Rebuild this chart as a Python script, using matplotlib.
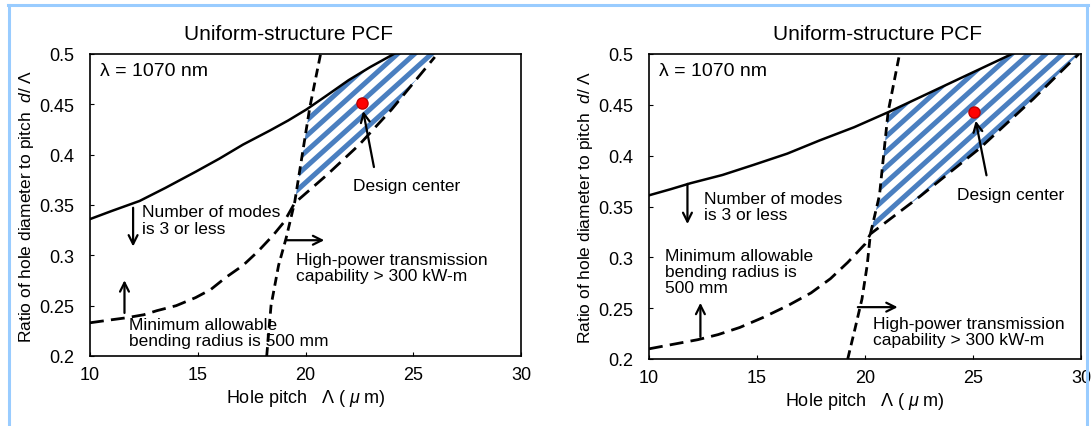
import numpy as np
import matplotlib
matplotlib.use("Agg")
from matplotlib import pyplot as plt
from matplotlib.lines import Line2D
from matplotlib.collections import LineCollection

plt.rcParams['font.family'] = ['Liberation Sans', 'DejaVu Sans']
plt.rcParams['mathtext.fontset'] = 'custom'
plt.rcParams['mathtext.rm'] = 'Liberation Sans'
plt.rcParams['mathtext.it'] = 'Liberation Sans:italic'

#-------------- data --------------
# left panel
modes_x_L = [10, 11, 12.3, 13.5, 14.9, 16, 17.1, 18.35, 19.2, 20.05, 21, 22, 23, 24.1]
modes_y_L = [0.336, 0.344, 0.354, 0.367, 0.383, 0.396, 0.41, 0.424, 0.434, 0.445, 0.459, 0.474, 0.487, 0.5]
bend_x_L = [10, 11, 11.7, 12.5, 13.1, 14, 14.9, 15.6, 16.3, 17.1, 17.8, 18.5, 19.0, 19.5, 21.0, 22.5, 24.0, 26.0]
bend_y_L = [0.233, 0.236, 0.238, 0.241, 0.245, 0.25, 0.258, 0.266, 0.278, 0.29, 0.304, 0.32, 0.333, 0.352, 0.38, 0.41, 0.445, 0.497]
power_x_L = [18.2, 18.4, 18.75, 19.1, 19.5, 19.85, 20.2, 20.7]
power_y_L = [0.2, 0.25, 0.29, 0.317, 0.353, 0.4, 0.447, 0.5]
center_L = (22.6, 0.451)

# right panel
modes_x_R = [10, 11, 11.94, 13.4, 14.85, 16.4, 17.9, 19.5, 21.1, 22.6, 24.0, 25.4, 26.8]
modes_y_R = [0.361, 0.367, 0.373, 0.381, 0.391, 0.402, 0.415, 0.428, 0.443, 0.458, 0.472, 0.486, 0.5]
bend_x_R = [10, 11, 12.26, 13.2, 14.2, 15.3, 16.47, 17.5, 18.4, 19.2, 20.0, 20.25, 22.55, 25.3, 27.8, 29.9]
bend_y_R = [0.21, 0.214, 0.219, 0.224, 0.231, 0.241, 0.253, 0.265, 0.279, 0.295, 0.313, 0.323, 0.36, 0.407, 0.456, 0.5]
power_x_R = [19.2, 19.54, 19.86, 20.1, 20.25, 20.67, 21.07, 21.6]
power_y_R = [0.2, 0.23, 0.259, 0.292, 0.323, 0.361, 0.443, 0.5]
center_R = (25.04, 0.443)

yticks = [0.2, 0.25, 0.3, 0.35, 0.4, 0.45, 0.5]
ytick_labels = ['0.2', '0.25', '0.3', '0.35', '0.4', '0.45', '0.5']
xticks = [10, 15, 20, 25, 30]
xtick_labels = ['10', '15', '20', '25', '30']

fig = plt.figure(figsize=(10.91, 4.27), dpi=100)

def stripes(ax, region, wpx, hpx, ang=42, step=17):
	# diagonal blue stripes clipped to the design region
	t = np.tan(np.radians(ang))
	segs = []
	for c in np.arange(-wpx * t, hpx + step * t, step * t):
		segs.append([(0, c / hpx), (1, (wpx * t + c) / hpx)])
	lc = LineCollection(segs, colors='#4a7fc0', linewidths=3.6, transform=ax.transAxes, zorder=2)
	ax.add_collection(lc)
	lc.set_clip_path(region.get_paths()[0], ax.transData)

def panel(ax, mx, my, bx, by, px, py, center, notes, arrows, title_x, wpx, hpx):
	yy = np.linspace(0.2, 0.5, 800)
	left = np.maximum(np.interp(yy, py, px), np.interp(yy, my, mx, left=10))
	right = np.interp(yy, by, bx)
	region = ax.fill_betweenx(yy, left, right, where=right > left, facecolor='white',
	                          linewidth=0, zorder=1)
	stripes(ax, region, wpx, hpx)
	ax.plot(mx, my, color='black', lw=1.8, zorder=3)
	ax.plot(bx, by, color='black', lw=2.0, dashes=(5, 2.6), zorder=3)
	ax.plot(px, py, color='black', lw=2.0, dashes=(3.2, 1.9), zorder=3)
	ax.plot(*center, 'o', color='#ff0000', mec='#c00000', ms=8, zorder=5)
	for (x0, y0), (x1, y1) in arrows:
		ax.annotate('', xy=(x1, y1), xytext=(x0, y0),
		            arrowprops=dict(arrowstyle='->', lw=1.6, color='black', mutation_scale=16),
		            zorder=4)
	for x, y, s in notes:
		ax.text(x, y, s, fontsize=12.5, va='center', ha='left', linespacing=1.1, zorder=6)
	ax.text(10.45, 0.484, 'λ = 1070 nm', fontsize=14, va='center')
	ax.text(title_x, 0.52, 'Uniform-structure PCF', fontsize=15, ha='center', va='center')
	ax.set_xlim(10, 30)
	ax.set_ylim(0.2, 0.5)
	ax.set_xticks(xticks)
	ax.set_xticklabels(xtick_labels)
	ax.set_yticks(yticks)
	ax.set_yticklabels(ytick_labels)
	ax.tick_params(direction='in', length=3, labelsize=13)
	ax.tick_params(axis='y', pad=11)
	ax.tick_params(axis='x', pad=7)
	for s in ax.spines.values():
		s.set_linewidth(1.2)
	ax.set_xlabel('Hole pitch   Λ ( $\\mu$ m)', fontsize=13, labelpad=3)
	ax.set_ylabel('Ratio of hole diameter to pitch  $d$/ Λ', fontsize=12.5, labelpad=3)

axL = fig.add_axes([90 / 1091, 1 - 357 / 427, 431 / 1091, 302 / 427])
notes_L = [(12.4, 0.335, 'Number of modes\nis 3 or less'),
           (11.8, 0.223, 'Minimum allowable\nbending radius is 500 mm'),
           (19.56, 0.288, 'High-power transmission\ncapability > 300 kW-m'),
           (22.2, 0.369, 'Design center')]
arrows_L = [((12.0, 0.350), (12.0, 0.306)),
            ((11.6, 0.240), (11.6, 0.278)),
            ((19.0, 0.315), (21.0, 0.315)),
            ((23.2, 0.385), (22.65, 0.446))]
panel(axL, modes_x_L, modes_y_L, bend_x_L, bend_y_L, power_x_L, power_y_L,
      center_L, notes_L, arrows_L, 19.2, 431, 302)

axR = fig.add_axes([649 / 1091, 1 - 360 / 427, 432 / 1091, 305 / 427])
notes_R = [(12.54, 0.35, 'Number of modes\nis 3 or less'),
           (10.73, 0.286, 'Minimum allowable\nbending radius is\n500 mm'),
           (20.35, 0.227, 'High-power transmission\ncapability > 300 kW-m'),
           (24.28, 0.362, 'Design center')]
arrows_R = [((11.78, 0.375), (11.78, 0.330)),
            ((12.38, 0.219), (12.38, 0.258)),
            ((19.54, 0.251), (21.64, 0.251)),
            ((25.65, 0.378), (25.1, 0.437))]
panel(axR, modes_x_R, modes_y_R, bend_x_R, bend_y_R, power_x_R, power_y_R,
      center_R, notes_R, arrows_R, 20.6, 432, 305)

#--------------light blue frame of the screenshot--------------
fc = '#99ccff'
fig.add_artist(Line2D([8.5 / 1091, 8.5 / 1091], [0, 1 - 6 / 427], color=fc, lw=2.2))
fig.add_artist(Line2D([7.5 / 1091, 1088 / 1091], [1 - 6 / 427, 1 - 6 / 427], color=fc, lw=2.2))
fig.add_artist(Line2D([1087 / 1091, 1087 / 1091], [0, 1 - 6 / 427], color=fc, lw=2.2))

plt.savefig('out.png', dpi=100)
